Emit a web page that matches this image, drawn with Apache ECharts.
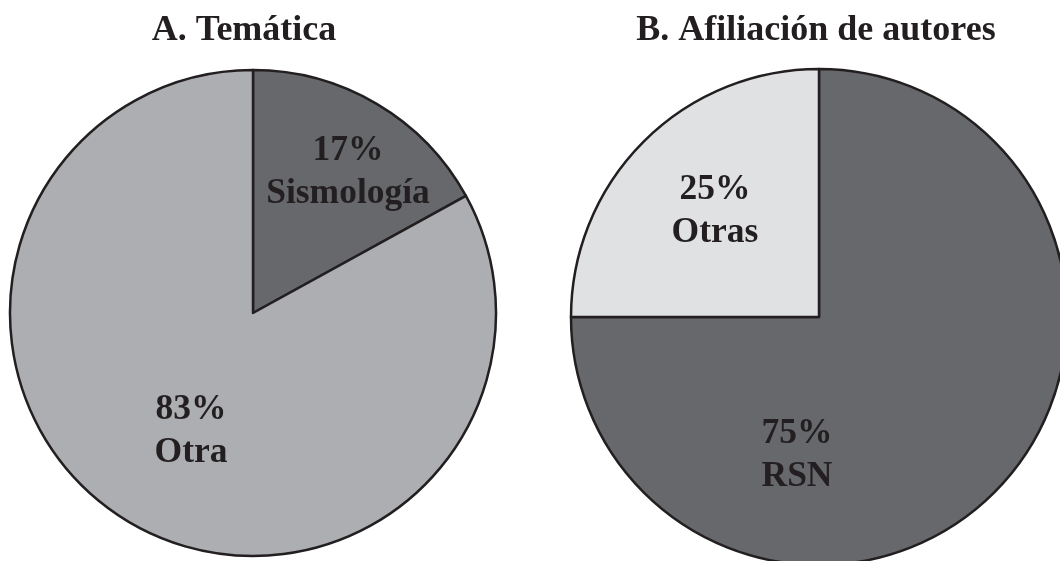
<!DOCTYPE html>
<html>
<head>
<meta charset="utf-8">
<title>Temática y afiliación</title>
<script src="https://cdn.jsdelivr.net/npm/echarts@6/dist/echarts.min.js"></script>
<style>
  html, body { margin: 0; padding: 0; background: #fff; }
  #chart { width: 1060px; height: 561px; }
</style>
</head>
<body>
<div id="chart"></div>
<script>
// Dos pasteles: A. Temática y B. Afiliación de autores (porcentajes)
const tematicaNames = ['Sismología', 'Otra']
const tematicaValues = [17, 83]
const afiliacionNames = ['RSN', 'Otras']
const afiliacionValues = [75, 25]

const INK = '#231f20'
const DARK = '#67686c'
const LIGHT = '#adaeb1'
const PALE = '#e0e1e3'
const FONT = '"Liberation Serif", "Times New Roman", serif'

// desplazamiento de cada etiqueta respecto al centro del pastel (px)
const labelOffsets = [
  [[95, -141], [-62, 118]],
  [[-22, 138], [-104, -106]],
]
const centers = [[253, 313], [819, 317]]

function pieSeries(idx, names, values, colors, radius) {
  return {
    type: 'pie',
    center: centers[idx],
    radius: radius,
    startAngle: 90,
    clockwise: true,
    silent: true,
    data: names.map((n, i) => ({ name: n, value: values[i], itemStyle: { color: colors[i] } })),
    itemStyle: { borderColor: INK, borderWidth: 2.5 },
    label: {
      show: true,
      position: 'inside',
      formatter: '{c}%\n{b}',
      color: INK,
      fontFamily: FONT,
      fontWeight: 'bold',
      fontSize: 35.5,
      lineHeight: 43,
      align: 'center',
    },
    labelLine: { show: false },
    labelLayout: (p) => {
      const o = labelOffsets[idx][p.dataIndex]
      return {
        x: centers[idx][0] + o[0],
        y: centers[idx][1] + o[1],
        align: 'center',
        verticalAlign: 'middle',
      }
    },
  }
}

const titleStyle = { fontFamily: FONT, fontWeight: 'bold', fontSize: 36, color: INK }

const chart = echarts.init(document.getElementById('chart'))
chart.setOption({
  animation: false,
  backgroundColor: '#fff',
  title: [
    { text: 'A. Temática', left: 239, top: 8, textAlign: 'center', textStyle: titleStyle },
    { text: 'B. Afiliación de autores', left: 811, top: 8, textAlign: 'center', textStyle: titleStyle },
  ],
  series: [
    pieSeries(0, tematicaNames, tematicaValues, [DARK, LIGHT], 243),
    pieSeries(1, afiliacionNames, afiliacionValues, [DARK, PALE], 248),
  ],
})
window.addEventListener('resize', () => chart.resize())
</script>
</body>
</html>
